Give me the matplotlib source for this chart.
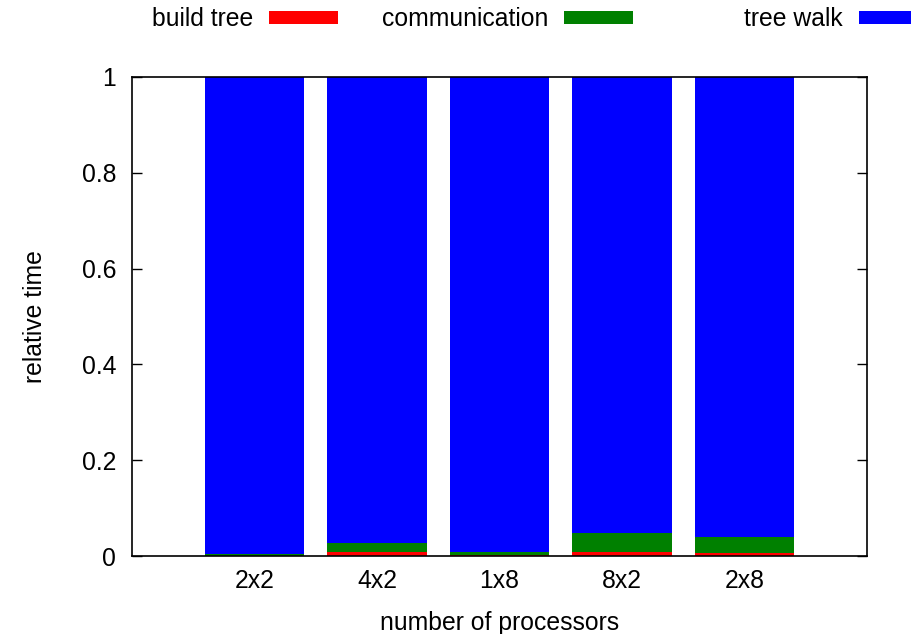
import matplotlib
matplotlib.use("Agg")
import matplotlib.pyplot as plt
from matplotlib.patches import Rectangle
import numpy as np

plt.rcParams['font.family'] = ['Liberation Sans', 'DejaVu Sans']

# processor layouts and relative time spent in each phase
layouts = ['2x2', '4x2', '1x8', '8x2', '2x8']
build_tree = np.array([0.001, 0.0084, 0.002, 0.0084, 0.0056])
communication = np.array([0.004, 0.0186, 0.007, 0.0396, 0.0334])
tree_walk = 1.0 - build_tree - communication

series_names = ['build tree', 'communication', 'tree walk']
colors = ['#ff0000', '#008000', '#0000ff']
FS = 17.8

W, H = 920, 634
fig = plt.figure(figsize=(W / 100, H / 100), dpi=100)
ax = fig.add_axes([132 / W, 1 - 556 / H, (867 - 132) / W, (556 - 77) / H])

x = np.arange(len(layouts))
bw = 0.81
bottom = np.zeros(len(layouts))
for vals, c in zip([build_tree, communication, tree_walk], colors):
    ax.bar(x, vals, bw, bottom=bottom, color=c, linewidth=0, zorder=1)
    bottom += vals

ax.set_xlim(-1.0, 5.0)
ax.set_ylim(0, 1)
ax.set_xticks(x)
ax.set_xticklabels(layouts)
ax.set_yticks([0, 0.2, 0.4, 0.6, 0.8, 1.0])
ax.set_yticklabels(['0', '0.2', '0.4', '0.6', '0.8', '1'])
ax.tick_params(axis='y', direction='in', length=7, width=1, right=True,
               labelsize=FS, pad=11.5)
ax.tick_params(axis='x', length=0, labelsize=FS, pad=9)
for s in ax.spines.values():
    s.set_linewidth(1.2)
    s.set_zorder(3)

ax.set_xlabel('number of processors', fontsize=FS, labelpad=13)
ax.set_ylabel('relative time', fontsize=FS, labelpad=25)

# key along the top: label text followed by a colour sample
key = [(253, 269, 338), (548, 564, 633), (843, 859, 911)]
for name, c, (tx, x0, x1) in zip(series_names, colors, key):
    fig.text(tx / W, 1 - 26 / H, name, ha='right', va='baseline', fontsize=FS)
    fig.patches.append(Rectangle((x0 / W, 1 - 24 / H), (x1 - x0) / W, 13 / H,
                                 transform=fig.transFigure, color=c,
                                 linewidth=0))

fig.savefig('out.png', dpi=100)
